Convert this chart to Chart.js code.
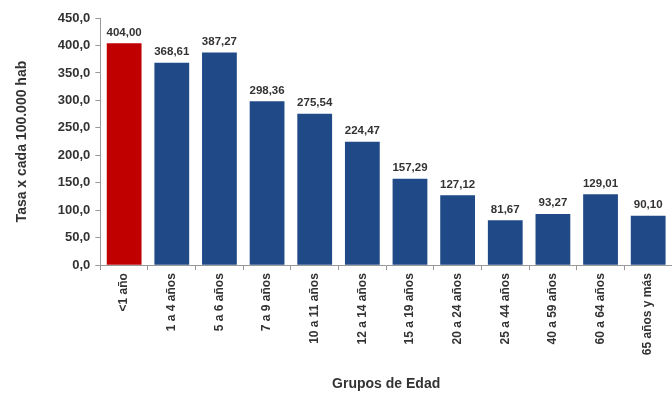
<!DOCTYPE html>
<html>
<head>
<meta charset="utf-8">
<script src="https://cdn.jsdelivr.net/npm/chart.js@4"></script>
<style>
  html, body { margin: 0; padding: 0; background: #fff; }
  #wrap { width: 672px; height: 393px; }
</style>
</head>
<body>
<div id="wrap"><canvas id="barChart"></canvas></div>
<script>
const categories = ["<1 año", "1 a 4 años", "5 a 6 años", "7 a 9 años", "10 a 11 años", "12 a 14 años",
  "15 a 19 años", "20 a 24 años", "25 a 44 años", "40 a 59 años", "60 a 64 años", "65 años y más"];
const tasas = [404.00, 368.61, 387.27, 298.36, 275.54, 224.47, 157.29, 127.12, 81.67, 93.27, 129.01, 90.10];
const barColors = ["#c00000", "#1f4a87", "#1f4a87", "#1f4a87", "#1f4a87", "#1f4a87",
  "#1f4a87", "#1f4a87", "#1f4a87", "#1f4a87", "#1f4a87", "#1f4a87"];

const fmt = (v, d) => v.toFixed(d).replace(".", ",");
const FONT = "'Liberation Sans', Arial, sans-serif";

// labels over the bars
const valueLabels = {
  id: "valueLabels",
  afterDatasetsDraw(chart) {
    const ctx = chart.ctx;
    const meta = chart.getDatasetMeta(0);
    ctx.save();
    ctx.font = "bold 11.5px " + FONT;
    ctx.fillStyle = "#333";
    ctx.textAlign = "center";
    ctx.textBaseline = "bottom";
    meta.data.forEach((bar, i) => {
      ctx.fillText(fmt(tasas[i], 2), bar.x, bar.y - 5);
    });
    ctx.restore();
  }
};

new Chart(document.getElementById("barChart"), {
  type: "bar",
  data: {
    labels: categories,
    datasets: [{
      data: tasas,
      backgroundColor: barColors,
      barPercentage: 0.73,
      categoryPercentage: 1
    }]
  },
  options: {
    responsive: true,
    maintainAspectRatio: false,
    animation: false,
    layout: { padding: { left: 14, right: 0, top: 18, bottom: 0 } },
    plugins: {
      legend: { display: false },
      tooltip: { enabled: false }
    },
    scales: {
      x: {
        border: { color: "#999" },
        grid: { drawOnChartArea: false, drawTicks: true, tickLength: 5, color: "#999" },
        ticks: {
          minRotation: 90, maxRotation: 90,
          color: "#333",
          font: { family: FONT, size: 12, weight: "bold" }
        },
        title: {
          display: true, text: "Grupos de Edad", color: "#333",
          font: { family: FONT, size: 14, weight: "bold" },
          padding: { top: 18, bottom: 0 }
        }
      },
      y: {
        min: 0, max: 450,
        border: { color: "#999" },
        grid: { drawOnChartArea: false, drawTicks: true, tickLength: 5, color: "#999" },
        ticks: {
          stepSize: 50,
          color: "#333",
          padding: 5,
          font: { family: FONT, size: 13, weight: "bold" },
          callback: v => fmt(v, 1)
        },
        title: {
          display: true, text: "Tasa x cada 100.000 hab", color: "#333",
          font: { family: FONT, size: 14, weight: "bold" },
          padding: { top: 0, bottom: 22 }
        }
      }
    }
  },
  plugins: [valueLabels]
});
</script>
</body>
</html>
